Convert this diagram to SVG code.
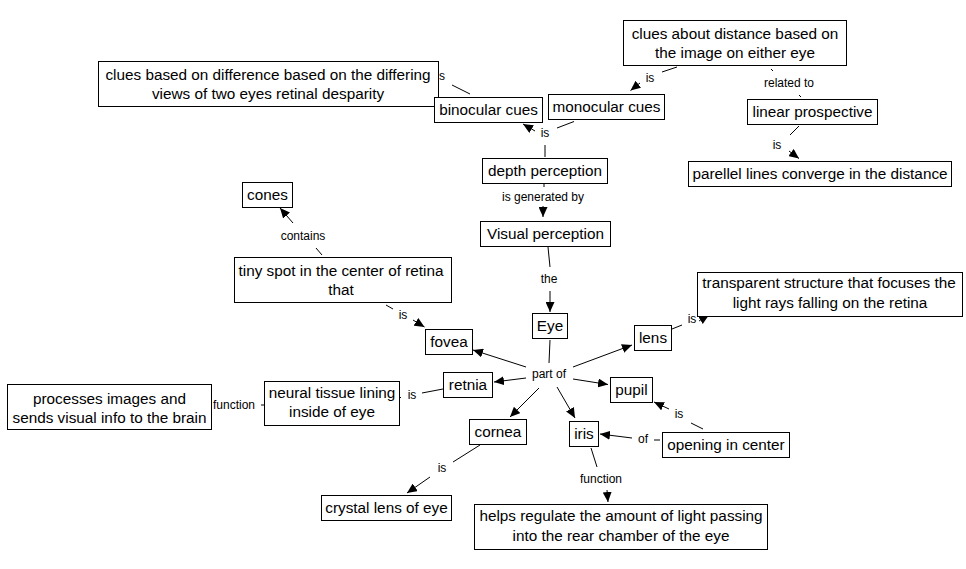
<svg xmlns="http://www.w3.org/2000/svg" width="966" height="569" viewBox="0 0 966 569">
<style>
  .box{fill:#fff;stroke:#000;stroke-width:1}
  .nt{font-family:"Liberation Sans",Arial,sans-serif;font-size:15.3px;fill:#000;text-anchor:middle}
  .lt{font-family:"Liberation Sans",Arial,sans-serif;font-size:12px;fill:#000;text-anchor:middle}
  .ln{stroke:#000;stroke-width:1;fill:none}
  .ar{stroke:#000;stroke-width:1;fill:none;marker-end:url(#ah)}
</style>
<defs>
  <marker id="ah" viewBox="0 0 10 9" refX="10" refY="4.5" markerWidth="10" markerHeight="9" markerUnits="userSpaceOnUse" orient="auto">
    <path d="M0,0 L10,4.5 L0,9 z" fill="#000"/>
  </marker>
</defs>
<rect width="966" height="569" fill="#fff"/>

<g id="connectors">
  <!-- clues diff / binocular -->
  <line class="ln" x1="452" y1="85" x2="470" y2="94"/>
  <text class="lt" x="439" y="80" style="text-anchor:start">s</text>
  <!-- depth -> is -> binocular / monocular -->
  <line class="ln" x1="545" y1="145" x2="545" y2="157"/>
  <text class="lt" x="545" y="137">is</text>
  <line class="ar" x1="535" y1="131" x2="523" y2="124"/>
  <line class="ln" x1="557" y1="128" x2="574" y2="121.5"/>
  <!-- clues distance -> is -> monocular -->
  <line class="ln" x1="662" y1="72" x2="677" y2="67"/>
  <text class="lt" x="650" y="82">is</text>
  <line class="ar" x1="640" y1="83" x2="630.5" y2="90.5"/>
  <!-- clues distance -> related to -> linear -->
  <line class="ln" x1="771" y1="69" x2="773" y2="71"/>
  <text class="lt" x="789" y="87">related to</text>
  <line class="ln" x1="799" y1="95" x2="801" y2="97"/>
  <!-- linear -> is -> parellel -->
  <line class="ln" x1="799" y1="126" x2="790" y2="135"/>
  <text class="lt" x="777" y="149">is</text>
  <line class="ar" x1="789" y1="151" x2="799" y2="158.5"/>
  <!-- depth -> is generated by -> visual -->
  <line class="ln" x1="544" y1="183" x2="544" y2="187"/>
  <text class="lt" x="543" y="201">is generated by</text>
  <line class="ar" x1="543" y1="206" x2="543" y2="217"/>
  <!-- visual -> the -> eye -->
  <line class="ln" x1="548" y1="247" x2="550" y2="267"/>
  <text class="lt" x="549" y="283">the</text>
  <line class="ar" x1="550" y1="291" x2="550" y2="312"/>
  <!-- tiny spot -> contains -> cones -->
  <line class="ln" x1="316" y1="248" x2="322" y2="255"/>
  <text class="lt" x="303" y="240">contains</text>
  <line class="ar" x1="293" y1="223" x2="280" y2="208"/>
  <!-- tiny spot -> is -> fovea -->
  <line class="ln" x1="386" y1="305" x2="393" y2="309"/>
  <text class="lt" x="403" y="319">is</text>
  <line class="ar" x1="413" y1="320" x2="424.5" y2="327"/>
  <!-- eye -> part of -> ... -->
  <line class="ln" x1="550" y1="340" x2="549" y2="363"/>
  <text class="lt" x="549" y="378">part of</text>
  <line class="ar" x1="526" y1="367" x2="473" y2="350"/>
  <line class="ar" x1="526" y1="378" x2="494" y2="382"/>
  <line class="ar" x1="539" y1="388" x2="510" y2="417"/>
  <line class="ar" x1="557" y1="387" x2="575" y2="418"/>
  <line class="ar" x1="573" y1="379" x2="608" y2="384.5"/>
  <line class="ar" x1="573" y1="367" x2="632" y2="345"/>
  <!-- lens -> is -> transparent -->
  <line class="ln" x1="672" y1="329" x2="682" y2="325"/>
  <text class="lt" x="692" y="323">is</text>
  <line class="ar" x1="699" y1="321" x2="709" y2="315"/>
  <!-- retnia -> is -> neural -->
  <line class="ln" x1="443" y1="389" x2="422" y2="393"/>
  <text class="lt" x="412" y="399">is</text>
  <line class="ln" x1="399" y1="397.5" x2="401" y2="397.5"/>
  <!-- neural -> function -> processes -->
  <line class="ln" x1="261" y1="405" x2="264" y2="405"/>
  <text class="lt" x="234" y="409">function</text>
  <!-- cornea -> is -> crystal -->
  <line class="ln" x1="480" y1="445" x2="453" y2="462"/>
  <text class="lt" x="442" y="472">is</text>
  <line class="ar" x1="430" y1="477" x2="407" y2="493"/>
  <!-- opening -> is -> pupil -->
  <line class="ln" x1="703" y1="429" x2="691" y2="423"/>
  <text class="lt" x="679" y="418">is</text>
  <line class="ar" x1="669" y1="409" x2="654" y2="402"/>
  <!-- opening -> of -> iris -->
  <line class="ln" x1="654" y1="440" x2="660" y2="440"/>
  <text class="lt" x="643" y="443">of</text>
  <line class="ar" x1="632" y1="438" x2="600" y2="434"/>
  <!-- iris -> function -> helps -->
  <line class="ln" x1="591" y1="448" x2="597" y2="467"/>
  <text class="lt" x="601" y="483">function</text>
  <line class="ar" x1="607" y1="490" x2="608" y2="502"/>
</g>

<g id="n-diff"><rect class="box" x="98.5" y="61.5" width="340" height="45"/>
  <text class="nt" x="268" y="80">clues based on difference based on the differing</text>
  <text class="nt" x="268" y="99">views of two eyes retinal desparity</text></g>
<g id="n-binocular"><rect class="box" x="434.5" y="97.5" width="108" height="25"/><text class="nt" x="488.5" y="115">binocular cues</text></g>
<g id="n-monocular"><rect class="box" x="548.5" y="94.5" width="116" height="25"/><text class="nt" x="606.5" y="112">monocular cues</text></g>
<g id="n-distance"><rect class="box" x="623.5" y="20.5" width="223" height="45"/>
  <text class="nt" x="735" y="38.5">clues about distance based on</text>
  <text class="nt" x="735" y="58">the image on either eye</text></g>
<g id="n-linear"><rect class="box" x="747.5" y="99.5" width="130" height="25"/><text class="nt" x="812.5" y="117">linear prospective</text></g>
<g id="n-parellel"><rect class="box" x="688.5" y="161.5" width="263" height="25"/><text class="nt" x="820" y="179">parellel lines converge in the distance</text></g>
<g id="n-depth"><rect class="box" x="482.5" y="158.5" width="125" height="25"/><text class="nt" x="545" y="176">depth perception</text></g>
<g id="n-visual"><rect class="box" x="480.5" y="221.5" width="130" height="25"/><text class="nt" x="545.5" y="239">Visual perception</text></g>
<g id="n-cones"><rect class="box" x="242.5" y="182.5" width="50" height="25"/><text class="nt" x="267.5" y="200">cones</text></g>
<g id="n-tinyspot"><rect class="box" x="234.5" y="257.5" width="217" height="45"/>
  <text class="nt" x="341" y="275.5">tiny spot in the center of retina</text>
  <text class="nt" x="341" y="295">that</text></g>
<g id="n-fovea"><rect class="box" x="425.5" y="329.5" width="47" height="25"/><text class="nt" x="449" y="347">fovea</text></g>
<g id="n-eye"><rect class="box" x="532.5" y="313.5" width="35" height="25"/><text class="nt" x="550" y="330.5">Eye</text></g>
<g id="n-lens"><rect class="box" x="634.5" y="325.5" width="37" height="25"/><text class="nt" x="653" y="343">lens</text></g>
<g id="n-transparent"><rect class="box" x="697.5" y="272.5" width="265" height="44"/>
  <text class="nt" x="829" y="288">transparent structure that focuses the</text>
  <text class="nt" x="830" y="308">light rays falling on the retina</text></g>
<g id="n-pupil"><rect class="box" x="610.5" y="377.5" width="42" height="25"/><text class="nt" x="631.5" y="395">pupil</text></g>
<g id="n-retnia"><rect class="box" x="443.5" y="372.5" width="49" height="25"/><text class="nt" x="468" y="390">retnia</text></g>
<g id="n-neural"><rect class="box" x="264.5" y="381.5" width="135" height="44"/>
  <text class="nt" x="332" y="397.5">neural tissue lining</text>
  <text class="nt" x="332" y="416.5">inside of eye</text></g>
<g id="n-processes"><rect class="box" x="7.5" y="384.5" width="204" height="45"/>
  <text class="nt" x="109.5" y="403.5">processes images and</text>
  <text class="nt" x="109.5" y="423">sends visual info to the brain</text></g>
<g id="n-cornea"><rect class="box" x="469.5" y="419.5" width="57" height="25"/><text class="nt" x="498" y="437">cornea</text></g>
<g id="n-iris"><rect class="box" x="569.5" y="421.5" width="29" height="25"/><text class="nt" x="584" y="439">iris</text></g>
<g id="n-opening"><rect class="box" x="662.5" y="432.5" width="127" height="25"/><text class="nt" x="726" y="450">opening in center</text></g>
<g id="n-crystal"><rect class="box" x="321.5" y="495.5" width="130" height="25"/><text class="nt" x="386.5" y="513">crystal lens of eye</text></g>
<g id="n-helps"><rect class="box" x="474.5" y="504.5" width="293" height="45"/>
  <text class="nt" x="621" y="521">helps regulate the amount of light passing</text>
  <text class="nt" x="621" y="541">into the rear chamber of the eye</text></g>
</svg>
